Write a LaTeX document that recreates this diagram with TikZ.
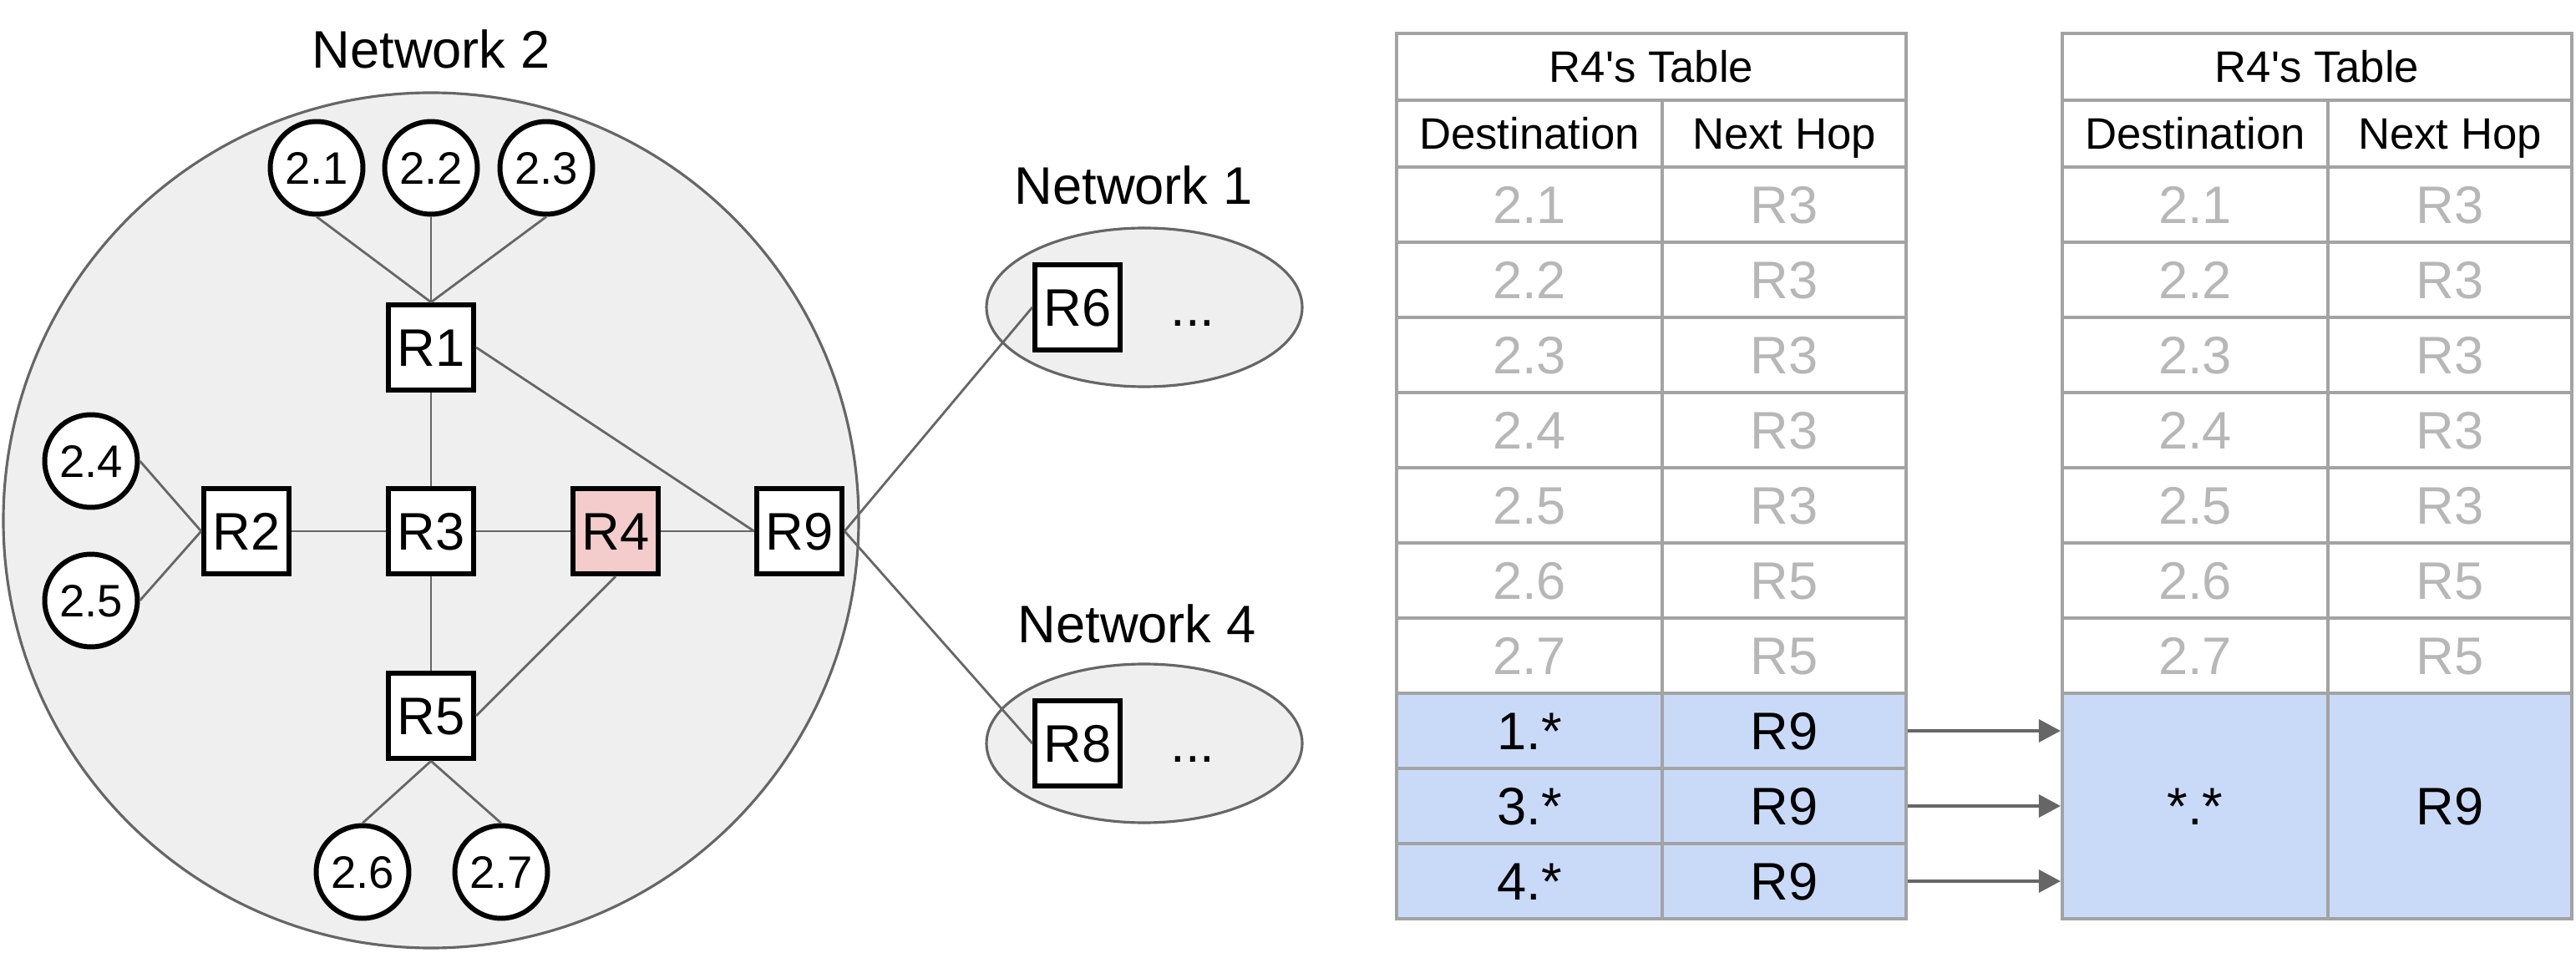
\documentclass[tikz,border=0pt]{standalone}
\usepackage{fontspec}
\setmainfont{Liberation Sans}
\usetikzlibrary{arrows.meta}

\definecolor{cloud}{HTML}{EFEFEF}
\definecolor{edge}{HTML}{666666}
\definecolor{rfour}{HTML}{F4CCCC}
\definecolor{route}{HTML}{C9DAF8}
\definecolor{tabline}{HTML}{A3A3A3}
\definecolor{oldtxt}{HTML}{B7B7B7}

\tikzset{
  router/.style={draw,line width=1.8pt,fill=white,minimum size=1.02cm,inner sep=0pt,
    font=\fontsize{18}{20}\selectfont,text height=12.9pt,text depth=0pt},
  host/.style={circle,draw,line width=1.7pt,fill=white,minimum size=1.11cm,inner sep=0pt,
    font=\fontsize{15.5}{17}\selectfont,text height=11.1pt,text depth=0pt},
  link/.style={draw=edge,line width=0.8pt},
  netarea/.style={fill=cloud,draw=edge,line width=0.9pt},
  netname/.style={font=\fontsize{18}{20}\selectfont,text height=12.9pt,text depth=0pt,inner sep=0pt},
  cell/.style={draw=tabline,line width=1.2pt,inner sep=0pt,minimum height=0.9cm,
    font=\fontsize{18}{20}\selectfont,text height=12.9pt,text depth=0pt},
  head/.style={minimum height=0.8cm,font=\fontsize{15}{17}\selectfont,text height=10.7pt},
  wide/.style={minimum width=3.18cm},
  narrow/.style={minimum width=2.92cm},
  old/.style={text=oldtxt},
  new/.style={fill=route},
  arr/.style={-{Triangle[length=0.26cm,width=0.27cm]},color=edge,line width=1pt}
}

\begin{document}
\begin{tikzpicture}
\useasboundingbox (0,0) rectangle (30.84,-11.41);
% networks
\draw[netarea] (5.16,-6.23) circle [radius=5.12];
\draw[netarea] (13.70,-3.68) ellipse [x radius=1.89, y radius=0.95];
\draw[netarea] (13.70,-8.90) ellipse [x radius=1.89, y radius=0.95];
\node[netname] (net2) at (5.16,-0.59) {Network 2};
\node[netname] (net1) at (13.57,-2.22) {Network 1};
\node[netname] (net4) at (13.61,-7.47) {Network 4};

\node[host] (h21) at (3.79,-2.01) {2.1};
\node[host] (h22) at (5.16,-2.01) {2.2};
\node[host] (h23) at (6.54,-2.01) {2.3};
\node[host] (h24) at (1.09,-5.52) {2.4};
\node[host] (h25) at (1.09,-7.19) {2.5};
\node[host] (h26) at (4.34,-10.44) {2.6};
\node[host] (h27) at (6.00,-10.44) {2.7};

\node[router] (R1) at (5.16,-4.16) {R1};
\node[router] (R2) at (2.95,-6.36) {R2};
\node[router] (R3) at (5.16,-6.36) {R3};
\node[router,fill=rfour] (R4) at (7.37,-6.36) {R4};
\node[router] (R9) at (9.57,-6.36) {R9};
\node[router] (R5) at (5.16,-8.57) {R5};
\node[router] (R6) at (12.90,-3.68) {R6};
\node[netname] (more1) at (14.28,-3.68) {...};
\node[router] (R8) at (12.90,-8.90) {R8};
\node[netname] (more4) at (14.28,-8.90) {...};

\draw[link] (h21.south) -- (R1.north);
\draw[link] (h22.south) -- (R1.north);
\draw[link] (h23.south) -- (R1.north);
\draw[link] (h24.east) -- (R2.west);
\draw[link] (h25.east) -- (R2.west);
\draw[link] (h26.north) -- (R5.south);
\draw[link] (h27.north) -- (R5.south);
\draw[link] (R1) -- (R3);
\draw[link] (R1.east) -- (R9.west);
\draw[link] (R2) -- (R3);
\draw[link] (R3) -- (R4);
\draw[link] (R4) -- (R9);
\draw[link] (R3) -- (R5);
\draw[link] (R4.south) -- (R5.east);
\draw[link] (R9.east) -- (R6.west);
\draw[link] (R9.east) -- (R8.west);

% R4's table, before
\node[cell,head,minimum width=6.10cm] (t1) at (19.77,-0.80) {R4\textquotesingle s Table};
\node[cell,head,wide] (t1d) at (18.31,-1.60) {Destination};
\node[cell,head,narrow] (t1h) at (21.36,-1.60) {Next Hop};
% R4's table, after
\node[cell,head,minimum width=6.10cm] (t2) at (27.74,-0.80) {R4\textquotesingle s Table};
\node[cell,head,wide] (t2d) at (26.28,-1.60) {Destination};
\node[cell,head,narrow] (t2h) at (29.33,-1.60) {Next Hop};

\foreach \dst/\hop [count=\i] in {2.1/R3,2.2/R3,2.3/R3,2.4/R3,2.5/R3,2.6/R5,2.7/R5} {
  \node[cell,wide,old] (a\i) at (18.31,-1.55-0.9*\i) {\dst};
  \node[cell,narrow,old] (b\i) at (21.36,-1.55-0.9*\i) {\hop};
  \node[cell,wide,old] (c\i) at (26.28,-1.55-0.9*\i) {\dst};
  \node[cell,narrow,old] (d\i) at (29.33,-1.55-0.9*\i) {\hop};
}

\node[cell,wide,new] (a8) at (18.31,-8.75) {1.*};
\node[cell,narrow,new] (b8) at (21.36,-8.75) {R9};
\node[cell,wide,new] (a9) at (18.31,-9.65) {3.*};
\node[cell,narrow,new] (b9) at (21.36,-9.65) {R9};
\node[cell,wide,new] (a10) at (18.31,-10.55) {4.*};
\node[cell,narrow,new] (b10) at (21.36,-10.55) {R9};
\node[cell,wide,new,minimum height=2.7cm] (c8) at (26.28,-9.65) {*.*};
\node[cell,narrow,new,minimum height=2.7cm] (d8) at (29.33,-9.65) {R9};

\draw[arr] (b8.east) -- (c8.west |- b8.east);
\draw[arr] (b9.east) -- (c8.west |- b9.east);
\draw[arr] (b10.east) -- (c8.west |- b10.east);
\end{tikzpicture}
\end{document}
